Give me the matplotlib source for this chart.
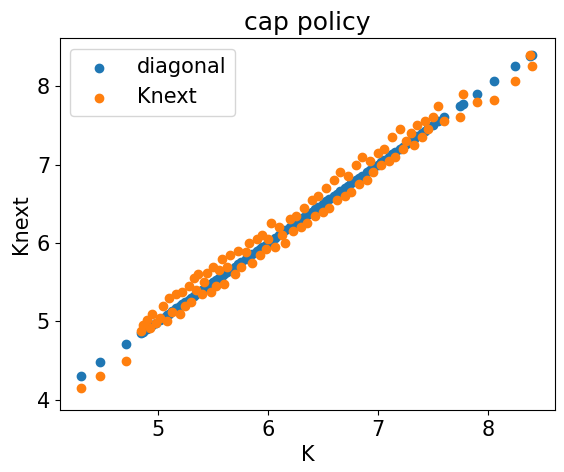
import matplotlib
matplotlib.use("Agg")
import matplotlib.pyplot as plt

K = [4.30,4.48,4.71,4.85,4.87,4.90,4.93,4.95,4.98,5.02,5.05,5.08,5.10,5.13,5.17,5.20,5.22,5.25,5.28,5.30,
     5.33,5.35,5.37,5.40,5.42,5.45,5.48,5.50,5.53,5.56,5.58,5.60,5.63,5.66,5.70,5.73,5.76,5.80,5.83,5.86,
     5.90,5.93,5.95,5.98,6.00,6.03,6.07,6.10,6.13,6.16,6.20,6.23,6.26,6.30,6.33,6.36,6.40,6.43,6.46,6.50,
     6.53,6.56,6.60,6.63,6.66,6.70,6.73,6.76,6.80,6.83,6.86,6.90,6.93,6.96,7.00,7.03,7.06,7.10,7.13,7.16,
     7.20,7.23,7.26,7.30,7.33,7.36,7.40,7.43,7.46,7.50,7.55,7.60,7.75,7.77,7.90,8.06,8.25,8.38,8.40]
Knext = [4.15,4.30,4.50,4.88,4.95,5.02,4.92,5.10,4.98,5.05,5.20,5.00,5.30,5.12,5.35,5.10,5.38,5.20,5.45,5.25,
         5.55,5.40,5.60,5.35,5.50,5.62,5.38,5.70,5.45,5.65,5.80,5.48,5.70,5.85,5.60,5.90,5.70,5.88,6.00,5.75,
         6.05,5.85,6.10,5.92,6.05,6.25,5.95,6.20,6.10,6.00,6.30,6.15,6.35,6.20,6.45,6.25,6.55,6.35,6.60,6.40,
         6.70,6.45,6.80,6.55,6.90,6.60,6.85,6.65,7.00,6.75,7.10,6.80,7.05,6.90,7.15,7.00,7.20,7.05,7.35,7.10,
         7.45,7.20,7.30,7.40,7.25,7.50,7.35,7.55,7.45,7.60,7.75,7.55,7.60,7.90,7.80,7.82,8.06,8.40,8.25]

plt.rcParams['font.size'] = 15
fig = plt.figure(figsize=(5.64, 4.72), dpi=100)
ax = fig.add_axes([0.106, 0.131, 0.878, 0.788])
ax.scatter(K, K, color='#1f77b4', label='diagonal')
ax.scatter(K, Knext, color='#ff7f0e', label='Knext')
ax.set_xlim(4.11, 8.61)
ax.set_ylim(3.87, 8.61)
ax.set_xticks([5, 6, 7, 8])
ax.set_yticks([4, 5, 6, 7, 8])
ax.set_xlabel('K')
ax.set_ylabel('Knext')
ax.set_title('cap policy', fontsize=18)
ax.legend(loc='upper left')
fig.savefig('out.png', dpi=100)
